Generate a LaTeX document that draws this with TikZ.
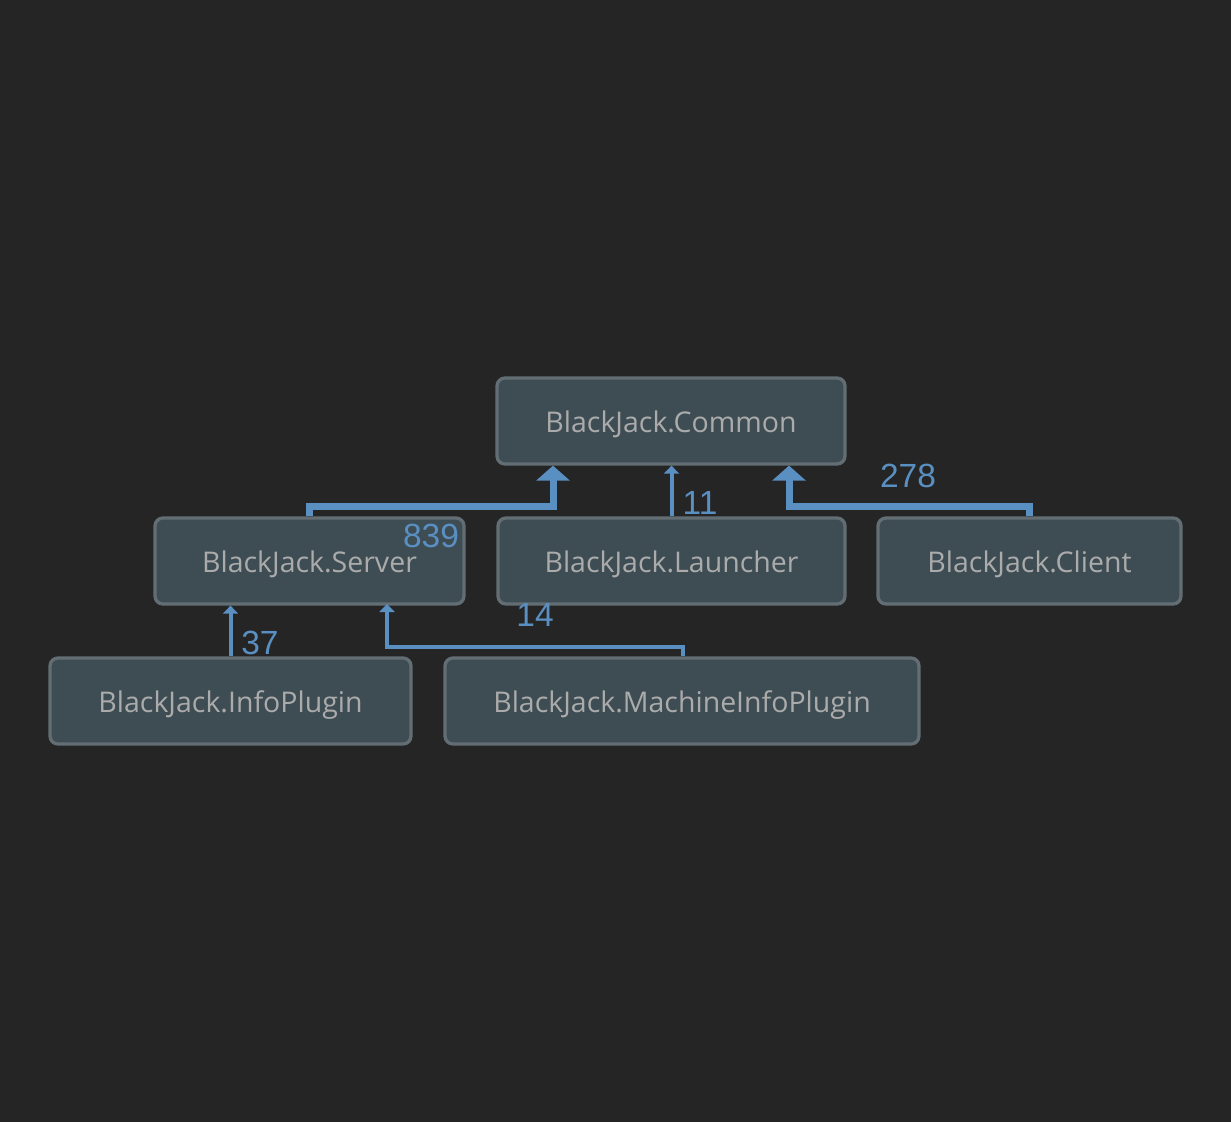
\documentclass[tikz,border=0pt]{standalone}
\usepackage{fontspec}
\setmainfont{Open Sans}
\newfontfamily\labelfont{Liberation Sans}
\usetikzlibrary{arrows.meta}
\definecolor{bg}{HTML}{252525}
\definecolor{boxfill}{HTML}{3E4D54}
\definecolor{boxline}{HTML}{626E73}
\definecolor{boxtext}{HTML}{ABABAB}
\definecolor{edge}{HTML}{5A8FC2}
\tikzset{
  pkg/.style={draw=boxline, fill=boxfill, line width=3.3pt, rounded corners=8pt,
    minimum height=86pt, inner sep=0pt, text=boxtext,
    text height=23.4pt, text depth=0pt,
    font=\fontsize{28.5}{32}\selectfont},
  bigdep/.style={draw=edge, line width=7pt, -{Triangle[width=33pt,length=15pt]}},
  smalldep/.style={draw=edge, line width=4pt, -{Triangle[width=15pt,length=8pt]}},
  cnt/.style={text=edge, inner sep=0pt, font=\labelfont\fontsize{33.5}{36}\selectfont}
}
\begin{document}
\begin{tikzpicture}[x=1pt,y=-1pt]
\fill[bg] (0,0) rectangle (1231,1122);
\useasboundingbox (0,0) rectangle (1231,1122);
\node[pkg, minimum width=348pt] (common) at (671,421) {BlackJack.Common};
\node[pkg, minimum width=309pt] (server) at (309.5,561) {BlackJack.Server};
\node[pkg, minimum width=347pt] (launcher) at (671.5,561) {BlackJack.Launcher};
\node[pkg, minimum width=303pt] (client) at (1029.5,561) {BlackJack.Client};
\node[pkg, minimum width=361pt] (info) at (230.5,701) {BlackJack.InfoPlugin};
\node[pkg, minimum width=474pt] (machine) at (682,701) {BlackJack.MachineInfoPlugin};

\coordinate (cl) at ([xshift=-118pt]common.south);
\coordinate (cr) at ([xshift=118pt]common.south);
\draw[bigdep] (server.north) -- (server.north |- 0,506) -| (cl);
\draw[bigdep] (client.north) -- (client.north |- 0,506) -| (cr);
\draw[smalldep] (launcher.north) -- (launcher.north |- common.south);
\draw[smalldep] (info.north) -- (info.north |- server.south);
\coordinate (sr) at (387,604);
\draw[smalldep] ([xshift=1pt]machine.north) -- ([xshift=1pt]machine.north |- 0,647) -| (sr);

\node[cnt] (n839) at (431,535.5) {839};
\node[cnt] (n11) at (700,503) {11};
\node[cnt] (n278) at (908,475.5) {278};
\node[cnt] (n37) at (260,643) {37};
\node[cnt] (n14) at (535,615) {14};
\end{tikzpicture}
\end{document}
